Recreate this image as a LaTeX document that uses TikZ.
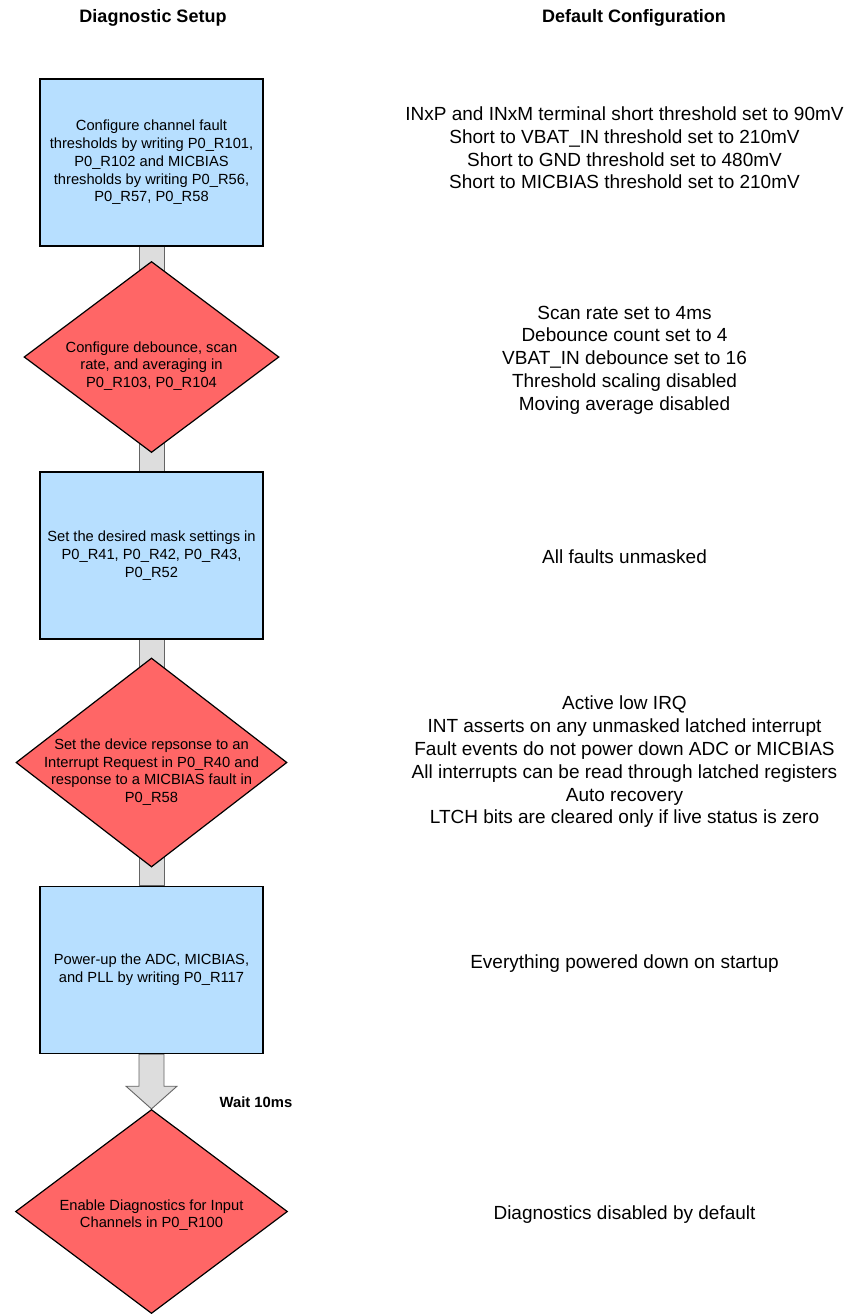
\documentclass[tikz,border=0pt]{standalone}
\usepackage{fontspec}
\setmainfont{Liberation Sans}
\usetikzlibrary{shapes.geometric,calc,backgrounds}
\definecolor{boxblue}{RGB}{183,223,255}
\definecolor{diared}{RGB}{255,102,102}
\definecolor{barfill}{RGB}{221,221,221}
\definecolor{baredge}{RGB}{100,100,100}
\begin{document}
\begin{tikzpicture}[x=1pt,y=-1pt,
  stepbox/.style={draw=black,line width=1.4pt,fill=boxblue,minimum width=223pt,minimum height=167pt,inner sep=0pt,align=center,font=\fontsize{14.7}{17.7}\selectfont},
  decision/.style={diamond,draw=black,line width=1.2pt,fill=diared,inner sep=0pt},
  intext/.style={align=center,font=\fontsize{14.7}{17.7}\selectfont,inner sep=0pt},
  cfgtext/.style={align=center,font=\fontsize{19}{22.8}\selectfont,inner sep=0pt},
  header/.style={font=\bfseries\fontsize{18}{21.6}\selectfont,inner sep=0pt},
  bar/.style={fill=barfill,draw=baredge,line width=0.9pt}]
\useasboundingbox (0,0) rectangle (849,1314);

\node[header] (h1) at (153,18) {Diagnostic Setup};
\node[header] (h2) at (634,18) {Default Configuration};

\node[stepbox] (b1) at (151.5,162.5) {Configure channel fault\\thresholds by writing P0\_R101,\\P0\_R102 and MICBIAS\\thresholds by writing P0\_R56,\\P0\_R57, P0\_R58};
\node[decision,minimum width=255pt,minimum height=191pt] (d1) at (151.5,357) {};
\node[intext] (d1t) at (151.5,366) {Configure debounce, scan\\rate, and averaging in\\P0\_R103, P0\_R104};
\node[stepbox] (b2) at (151.5,555.5) {Set the desired mask settings in\\P0\_R41, P0\_R42, P0\_R43,\\P0\_R52};
\node[decision,minimum width=271pt,minimum height=209pt] (d2) at (151.5,762.5) {};
\node[intext] (d2t) at (151.5,772) {Set the device repsonse to an\\Interrupt Request in P0\_R40 and\\response to a MICBIAS fault in\\P0\_R58};
\node[stepbox] (b3) at (151.5,970) {Power-up the ADC, MICBIAS,\\and PLL by writing P0\_R117};
\node[decision,minimum width=272pt,minimum height=204pt] (d3) at (151.5,1211.5) {};
\node[intext] (d3t) at (151.5,1215) {Enable Diagnostics for Input\\Channels in P0\_R100};

\node[font=\bfseries\fontsize{14.8}{17.8}\selectfont,inner sep=0pt] (w) at (256,1102) {Wait 10ms};

\node[cfgtext] (c1) at (624.5,148) {INxP and INxM terminal short threshold set to 90mV\\Short to VBAT\_IN threshold set to 210mV\\Short to GND threshold set to 480mV\\Short to MICBIAS threshold set to 210mV};
\node[cfgtext] (c2) at (624.5,360) {Scan rate set to 4ms\\Debounce count set to 4\\VBAT\_IN debounce set to 16\\Threshold scaling disabled\\Moving average disabled};
\node[cfgtext] (c3) at (624.5,557) {All faults unmasked};
\node[cfgtext] (c4) at (624.5,762) {Active low IRQ\\INT asserts on any unmasked latched interrupt\\Fault events do not power down ADC or MICBIAS\\All interrupts can be read through latched registers\\Auto recovery\\LTCH bits are cleared only if live status is zero};
\node[cfgtext] (c5) at (624.5,964) {Everything powered down on startup};
\node[cfgtext] (c6) at (624.5,1215) {Diagnostics disabled by default};

\begin{scope}[on background layer]
\draw[bar] ($(b1.south)+(-12.5,0)$) rectangle ($(d1.center)+(12.5,0)$);
\draw[bar] ($(d1.center)+(-12.5,0)$) rectangle ($(b2.north)+(12.5,0)$);
\draw[bar] ($(b2.south)+(-12.5,0)$) rectangle ($(d2.center)+(12.5,0)$);
\draw[bar] ($(d2.center)+(-12.5,0)$) rectangle ($(b3.north)+(12.5,0)$);
\draw[bar] ($(b3.south)+(-12.5,0)$) -- ($(b3.south)+(-12.5,32)$) -- ($(b3.south)+(-25.5,32)$) -- (d3.north) -- ($(b3.south)+(25.5,32)$) -- ($(b3.south)+(12.5,32)$) -- ($(b3.south)+(12.5,0)$) -- cycle;
\end{scope}
\end{tikzpicture}
\end{document}
